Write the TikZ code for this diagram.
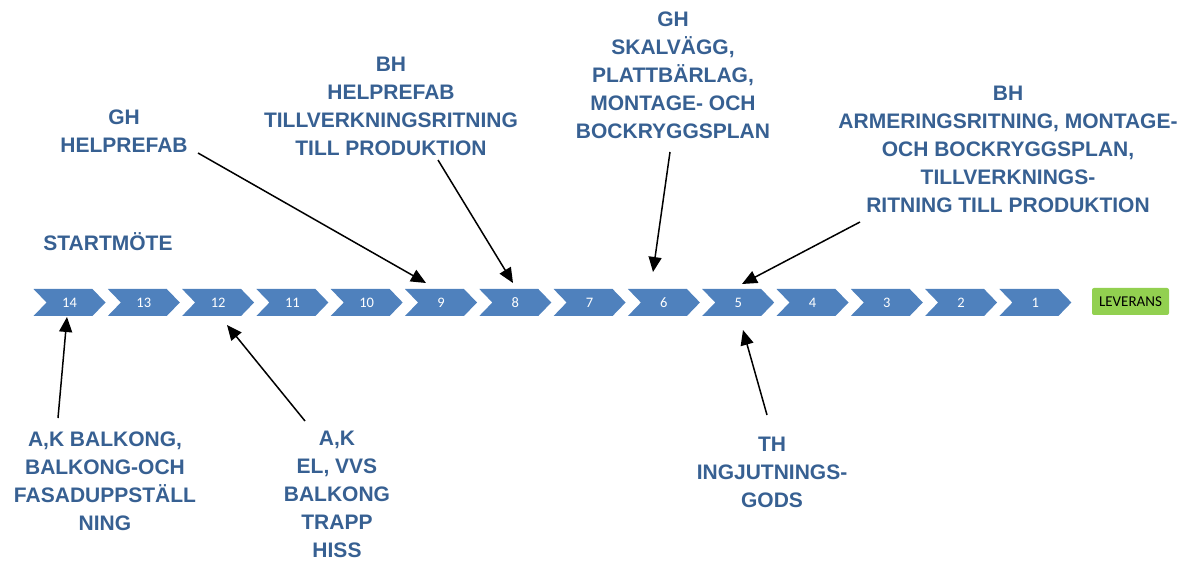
\documentclass[tikz,border=0pt]{standalone}
\usepackage{fontspec}
\setmainfont{Liberation Sans}[BoldFont={Liberation Sans Bold}]
\newfontfamily\calibri{Carlito}
\usetikzlibrary{
    arrows.meta,
    shapes.symbols,
    positioning
}
\definecolor{chevblue}{HTML}{4F81BD}
\definecolor{labelblue}{HTML}{376092}
\definecolor{levgreen}{HTML}{92D050}

\begin{document}
\begin{tikzpicture}[x=1pt, y=-1pt,
        chev/.style={signal, signal from=west, signal to=east, signal pointer angle=92,
            fill=chevblue, text=white, minimum width=72pt, minimum height=27pt, inner sep=0pt,
            font=\calibri\fontsize{14.5}{14.5}\selectfont},
        levbox/.style={fill=levgreen, rounded corners=2pt, minimum width=77pt, minimum height=27pt,
            inner sep=0pt, font=\calibri\fontsize{15}{15}\selectfont},
        lbl/.style={text=labelblue, align=center, inner sep=0pt,
            font=\bfseries\fontsize{21}{28}\selectfont},
        pil/.style={line width=1.5pt, -{Triangle[length=15pt,width=13pt]}}]
                        \useasboundingbox (0, 0) rectangle (1189, 561);
                        % steps
                        \foreach \k [count=\i from 0] in {14,13,...,1}
                            \node[chev] (s\k) at ({69.5 + 74.3*\i}, 302.5) {\k};
                        \node[levbox] (lev) at (1130.5, 301.5) {LEVERANS};
                        % labels above
                        \node[lbl] (start) at (108, 242) {STARTMÖTE};
                        \node[lbl] (ghhel) at (124, 131) {GH\\HELPREFAB};
                        \node[lbl] (bhhel) at (391, 106) {BH\\HELPREFAB\\TILLVERKNINGSRITNING\\TILL PRODUKTION};
                        \node[lbl] (ghskal) at (673, 75) {GH\\SKALVÄGG,\\PLATTBÄRLAG,\\MONTAGE- OCH\\BOCKRYGGSPLAN};
                        \node[lbl] (bharm) at (1008, 149) {BH\\ARMERINGSRITNING, MONTAGE-\\OCH BOCKRYGGSPLAN,\\TILLVERKNINGS-\\RITNING TILL PRODUKTION};
                        % labels below
                        \node[lbl] (akbalk) at (105, 481) {A,K BALKONG,\\BALKONG-OCH\\FASADUPPSTÄLL\\NING};
                        \node[lbl] (akel) at (337, 494) {A,K\\EL, VVS\\BALKONG\\TRAPP\\HISS};
                        \node[lbl] (th) at (772, 472) {TH\\INGJUTNINGS-\\GODS};
                        % arrow ends
                        \coordinate (p14a) at (58, 418);  \coordinate (p14b) at (67, 317);
                        \coordinate (p12a) at (305, 421); \coordinate (p12b) at (227, 325);
                        \coordinate (p9a) at (198, 153);  \coordinate (p9b) at (426, 283);
                        \coordinate (p8a) at (438, 160);  \coordinate (p8b) at (513, 283);
                        \coordinate (p6a) at (670, 152);  \coordinate (p6b) at (653, 272);
                        \coordinate (p5a) at (860, 222);  \coordinate (p5b) at (742, 284);
                        \coordinate (p5c) at (767, 415);  \coordinate (p5d) at (743, 330);
                        \draw
                        (p14a) edge[pil] (p14b)
                        (p12a) edge[pil] (p12b)
                        (p9a) edge[pil] (p9b)
                        (p8a) edge[pil] (p8b)
                        (p6a) edge[pil] (p6b)
                        (p5a) edge[pil] (p5b)
                        (p5c) edge[pil] (p5d);
\end{tikzpicture}
\end{document}
